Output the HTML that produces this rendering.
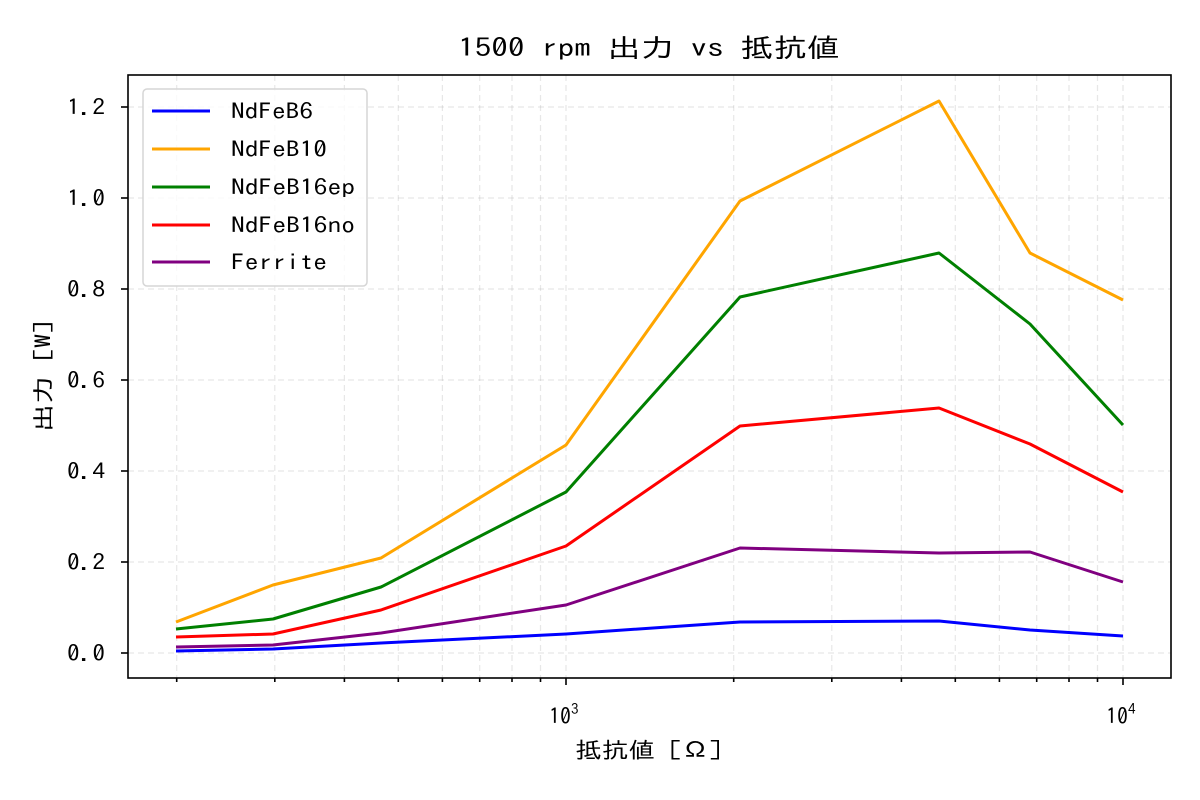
<!DOCTYPE html>
<html><head><meta charset="utf-8"><style>
html,body{margin:0;padding:0;background:#fff;}
svg{display:block;font-family:"IPAGothic","Liberation Sans","Noto Sans CJK JP",sans-serif;}
</style></head><body>
<svg width="1200" height="800" viewBox="0 0 1200 800" xmlns="http://www.w3.org/2000/svg">
<rect width="1200" height="800" fill="#fff"/>
<g stroke="#b0b0b0" stroke-opacity="0.3" stroke-width="1.2" stroke-dasharray="6,4" fill="none">
<line x1="566" y1="75" x2="566" y2="678"/><line x1="1123" y1="75" x2="1123" y2="678"/>
<line x1="176.7" y1="75" x2="176.7" y2="678"/><line x1="274.8" y1="75" x2="274.8" y2="678"/>
<line x1="344.4" y1="75" x2="344.4" y2="678"/><line x1="398.3" y1="75" x2="398.3" y2="678"/>
<line x1="442.4" y1="75" x2="442.4" y2="678"/><line x1="479.7" y1="75" x2="479.7" y2="678"/>
<line x1="512" y1="75" x2="512" y2="678"/><line x1="540.5" y1="75" x2="540.5" y2="678"/>
<line x1="733.7" y1="75" x2="733.7" y2="678"/><line x1="831.8" y1="75" x2="831.8" y2="678"/>
<line x1="901.4" y1="75" x2="901.4" y2="678"/><line x1="955.3" y1="75" x2="955.3" y2="678"/>
<line x1="999.4" y1="75" x2="999.4" y2="678"/><line x1="1036.7" y1="75" x2="1036.7" y2="678"/>
<line x1="1069" y1="75" x2="1069" y2="678"/><line x1="1097.5" y1="75" x2="1097.5" y2="678"/>
<line x1="128" y1="653" x2="1171" y2="653"/><line x1="128" y1="562" x2="1171" y2="562"/>
<line x1="128" y1="471" x2="1171" y2="471"/><line x1="128" y1="380" x2="1171" y2="380"/>
<line x1="128" y1="289" x2="1171" y2="289"/><line x1="128" y1="198" x2="1171" y2="198"/>
<line x1="128" y1="107" x2="1171" y2="107"/>
</g>
<g fill="none" stroke-width="3" stroke-linejoin="round">
<polyline stroke="#0000ff" points="176,651 273,649 381,643 566,634 740,622 939,621 1030,630 1123,636"/>
<polyline stroke="#ffa500" points="176,622 273,585 381,558 566,445 740,201 939,101 1030,253 1123,300"/>
<polyline stroke="#008000" points="176,629 273,619 381,587 566,492 740,297 939,253 1030,324 1123,425"/>
<polyline stroke="#ff0000" points="176,637 273,634 381,610 566,546 740,426 939,408 1030,444 1123,492"/>
<polyline stroke="#800080" points="176,647 273,645 381,633 566,605 740,548 939,553 1030,552 1123,582"/>
</g>
<rect x="128" y="75" width="1043" height="603" fill="none" stroke="#000" stroke-width="1.6"/>
<g stroke="#000" stroke-width="1.6">
<line x1="566" y1="678" x2="566" y2="685"/><line x1="1123" y1="678" x2="1123" y2="685"/>
<line x1="176.7" y1="678" x2="176.7" y2="682"/><line x1="274.8" y1="678" x2="274.8" y2="682"/>
<line x1="344.4" y1="678" x2="344.4" y2="682"/><line x1="398.3" y1="678" x2="398.3" y2="682"/>
<line x1="442.4" y1="678" x2="442.4" y2="682"/><line x1="479.7" y1="678" x2="479.7" y2="682"/>
<line x1="512" y1="678" x2="512" y2="682"/><line x1="540.5" y1="678" x2="540.5" y2="682"/>
<line x1="733.7" y1="678" x2="733.7" y2="682"/><line x1="831.8" y1="678" x2="831.8" y2="682"/>
<line x1="901.4" y1="678" x2="901.4" y2="682"/><line x1="955.3" y1="678" x2="955.3" y2="682"/>
<line x1="999.4" y1="678" x2="999.4" y2="682"/><line x1="1036.7" y1="678" x2="1036.7" y2="682"/>
<line x1="1069" y1="678" x2="1069" y2="682"/><line x1="1097.5" y1="678" x2="1097.5" y2="682"/>
<line x1="121" y1="653" x2="128" y2="653"/><line x1="121" y1="562" x2="128" y2="562"/>
<line x1="121" y1="471" x2="128" y2="471"/><line x1="121" y1="380" x2="128" y2="380"/>
<line x1="121" y1="289" x2="128" y2="289"/><line x1="121" y1="198" x2="128" y2="198"/>
<line x1="121" y1="107" x2="128" y2="107"/>
</g>
<g font-size="22" fill="#000" lengthAdjust="spacingAndGlyphs">
<text x="67" y="661" textLength="38" lengthAdjust="spacingAndGlyphs">0.0</text>
<text x="67" y="570" textLength="38" lengthAdjust="spacingAndGlyphs">0.2</text>
<text x="67" y="479" textLength="38" lengthAdjust="spacingAndGlyphs">0.4</text>
<text x="67" y="388" textLength="38" lengthAdjust="spacingAndGlyphs">0.6</text>
<text x="67" y="297" textLength="38" lengthAdjust="spacingAndGlyphs">0.8</text>
<text x="67" y="206" textLength="38" lengthAdjust="spacingAndGlyphs">1.0</text>
<text x="67" y="115" textLength="38" lengthAdjust="spacingAndGlyphs">1.2</text>
</g>
<g font-size="22" fill="#000">
<text x="549" y="724">10<tspan dy="-10" font-size="15">3</tspan></text>
<text x="1106" y="724">10<tspan dy="-10" font-size="15">4</tspan></text>
<text x="575" y="758" textLength="147" lengthAdjust="spacingAndGlyphs">抵抗値 [Ω]</text>
<text x="458" y="57" font-size="26" textLength="382" lengthAdjust="spacingAndGlyphs">1500 rpm 出力 vs 抵抗値</text>
<text transform="translate(51,432) rotate(-90)" textLength="112" lengthAdjust="spacingAndGlyphs">出力 [W]</text>
</g>
<rect x="143" y="89" width="224" height="197" rx="4" fill="#fff" fill-opacity="0.8" stroke="#d6d6d6" stroke-width="1.5"/>
<g stroke-width="3">
<line x1="152" y1="111" x2="210" y2="111" stroke="#0000ff"/>
<line x1="152" y1="149" x2="210" y2="149" stroke="#ffa500"/>
<line x1="152" y1="187" x2="210" y2="187" stroke="#008000"/>
<line x1="152" y1="225" x2="210" y2="225" stroke="#ff0000"/>
<line x1="152" y1="262" x2="210" y2="262" stroke="#800080"/>
</g>
<g font-size="22" fill="#000">
<text x="231" y="119" textLength="82" lengthAdjust="spacingAndGlyphs">NdFeB6</text>
<text x="231" y="157" textLength="96" lengthAdjust="spacingAndGlyphs">NdFeB10</text>
<text x="231" y="195" textLength="124" lengthAdjust="spacingAndGlyphs">NdFeB16ep</text>
<text x="231" y="233" textLength="124" lengthAdjust="spacingAndGlyphs">NdFeB16no</text>
<text x="231" y="270" textLength="96" lengthAdjust="spacingAndGlyphs">Ferrite</text>
</g>
</svg>
</body></html>
